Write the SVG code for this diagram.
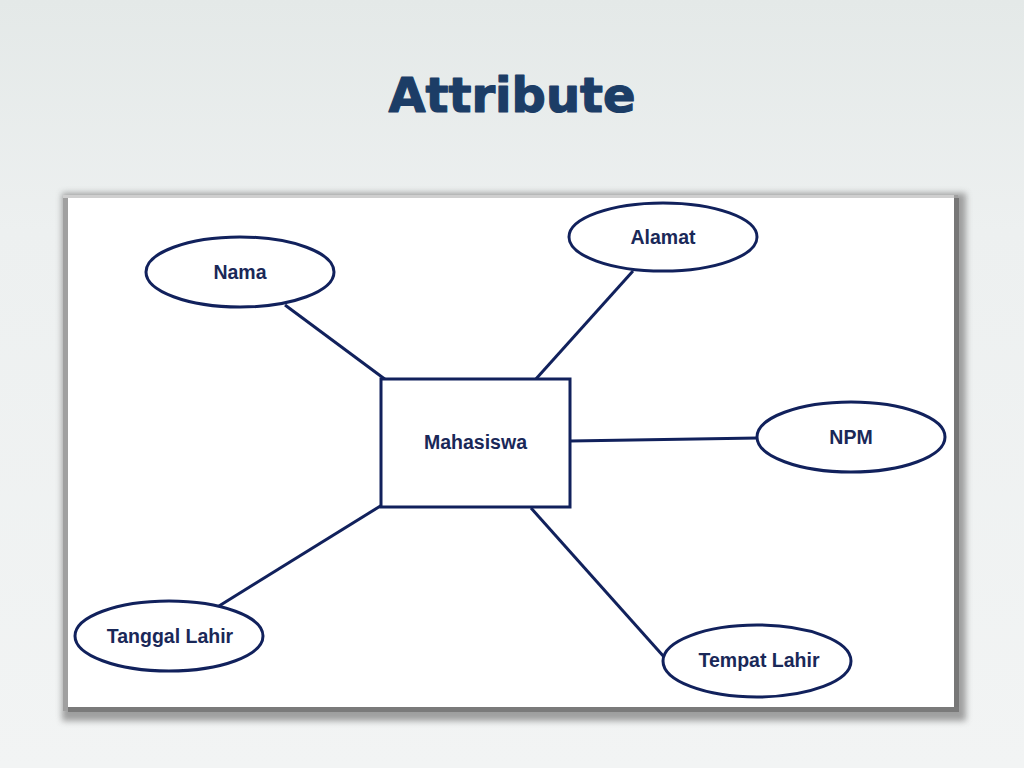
<svg xmlns="http://www.w3.org/2000/svg" width="1024" height="768" viewBox="0 0 1024 768">
<defs>
<linearGradient id="bg" x1="0" y1="0" x2="0" y2="1">
<stop offset="0" stop-color="#e4e9e8"/>
<stop offset="0.3" stop-color="#edf0f0"/>
<stop offset="1" stop-color="#f2f4f4"/>
</linearGradient>
<filter id="blur" x="-5%" y="-5%" width="110%" height="110%">
<feGaussianBlur stdDeviation="3"/>
</filter>
</defs>
<style>
.node { fill: #ffffff; stroke: #11215c; stroke-width: 3; }
.lbl { font-family: "Liberation Sans", Arial, sans-serif; font-weight: bold; font-size: 19.5px; fill: #1a2858; text-anchor: middle; }
.conn line { stroke: #11215c; stroke-width: 3; stroke-linecap: butt; }
</style>
<rect x="0" y="0" width="1024" height="768" fill="url(#bg)"/>
<text x="512" y="112" font-family="'DejaVu Sans', Verdana, sans-serif" font-weight="bold" font-size="48" fill="#1c3d66" stroke="#1c3d66" stroke-width="1.2" stroke-linejoin="round" text-anchor="middle">Attribute</text>
<g id="panel">
<rect x="62" y="193" width="904" height="528" fill="#8a8a8a" filter="url(#blur)" opacity="0.8"/>
<rect x="63" y="195" width="895" height="516" fill="#a0a0a0"/>
<rect x="954" y="198" width="5" height="513" fill="#777777"/>
<rect x="68" y="707" width="891" height="5" fill="#7a7a7a"/>
<rect x="63" y="195" width="891" height="3" fill="#cfcfcf"/>
<rect x="68" y="198" width="886" height="509" fill="#ffffff"/>
</g>
<g id="connectors" class="conn">
<line x1="285" y1="305" x2="386" y2="380"/>
<line x1="633" y1="271" x2="535" y2="380"/>
<line x1="570" y1="441" x2="758" y2="438"/>
<line x1="219" y1="606" x2="382" y2="505"/>
<line x1="531" y1="508" x2="665" y2="658"/>
</g>
<g id="mahasiswa">
<rect class="node" x="381" y="379" width="189" height="128"/>
<text class="lbl" x="475.5" y="449">Mahasiswa</text>
</g>
<g id="nama">
<ellipse class="node" cx="240" cy="272" rx="94" ry="35"/>
<text class="lbl" x="240" y="279">Nama</text>
</g>
<g id="alamat">
<ellipse class="node" cx="663" cy="237" rx="94" ry="34"/>
<text class="lbl" x="663" y="244">Alamat</text>
</g>
<g id="npm">
<ellipse class="node" cx="851" cy="437" rx="94" ry="35"/>
<text class="lbl" x="851" y="444">NPM</text>
</g>
<g id="tanggal-lahir">
<ellipse class="node" cx="169" cy="636" rx="94" ry="35"/>
<text class="lbl" x="170" y="643">Tanggal Lahir</text>
</g>
<g id="tempat-lahir">
<ellipse class="node" cx="757" cy="661" rx="94" ry="36"/>
<text class="lbl" x="759" y="667">Tempat Lahir</text>
</g>
</svg>
